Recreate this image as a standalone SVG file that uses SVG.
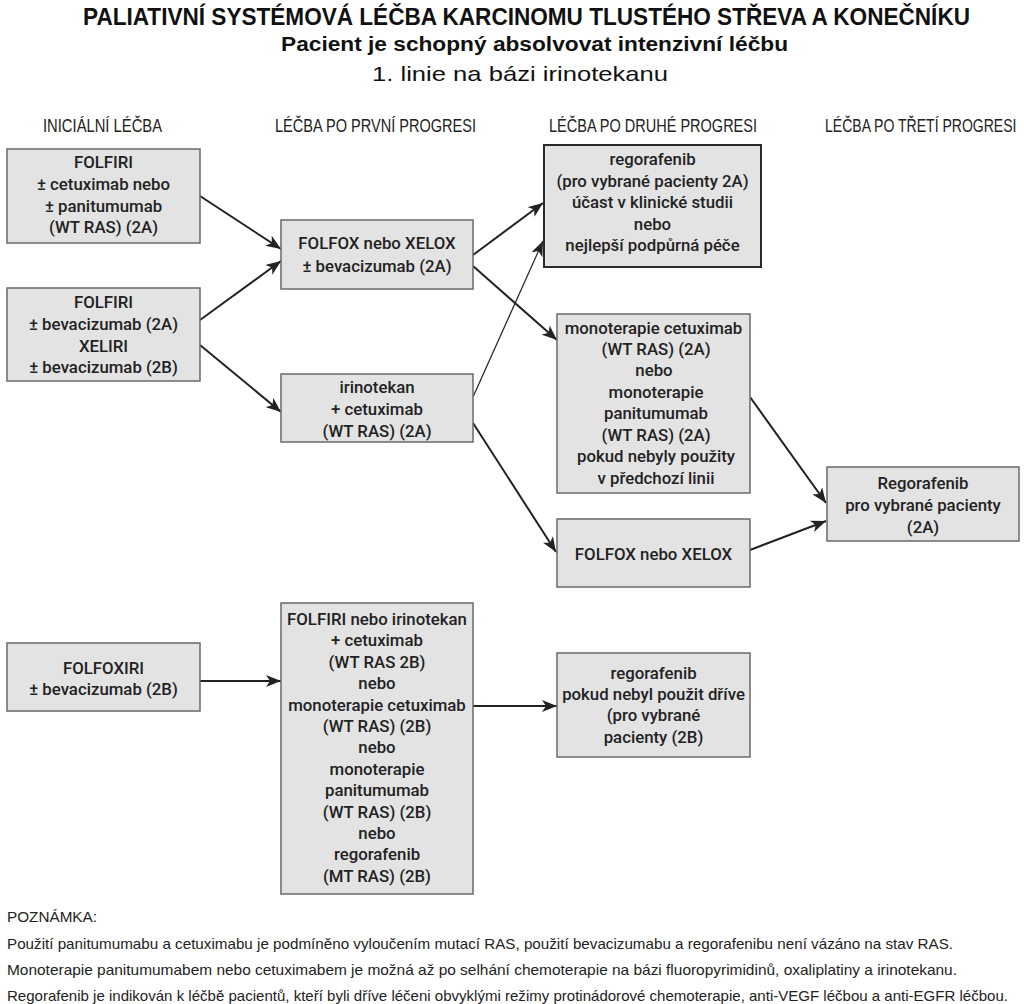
<svg xmlns="http://www.w3.org/2000/svg" width="1024" height="1004" viewBox="0 0 1024 1004">
<style>
.bg{fill:#ffffff}
.box{fill:#e3e3e3;stroke:#6a6a6a;stroke-width:1.5}
.boxd{fill:#e3e3e3;stroke:#2a2a2a;stroke-width:2}
.t{font-family:Roboto,"Liberation Sans",sans-serif;font-weight:500;font-size:16.8px;fill:#222;text-anchor:middle}
.title{font-family:"Liberation Sans",Arial,sans-serif;font-weight:bold;fill:#111;text-anchor:middle}
.hdr{font-family:"Liberation Sans",Arial,sans-serif;font-size:18px;fill:#222;text-anchor:start}
.note{font-family:"Liberation Sans",Arial,sans-serif;font-size:15px;fill:#222}
.c{stroke:#222;stroke-width:2;fill:none}
.cth{stroke:#222;stroke-width:1.2;fill:none}
</style>
<defs>
<marker id="ah" markerUnits="userSpaceOnUse" markerWidth="16" markerHeight="12" viewBox="0 0 16 12" refX="15" refY="6" orient="auto">
<path d="M0,0 L15,6 L0,12 L4,6 z" fill="#222"/>
</marker>
</defs>
<rect class="bg" x="0" y="0" width="1024" height="1004"/>

<g id="titles">
<text class="title" x="526.5" y="25" font-size="23.5" textLength="887" lengthAdjust="spacingAndGlyphs">PALIATIVNÍ SYSTÉMOVÁ LÉČBA KARCINOMU TLUSTÉHO STŘEVA A KONEČNÍKU</text>
<text class="title" x="534.5" y="51" font-size="20" textLength="507" lengthAdjust="spacingAndGlyphs">Pacient je schopný absolvovat intenzivní léčbu</text>
<text class="title" x="520" y="81" font-size="21" textLength="296" lengthAdjust="spacingAndGlyphs" style="font-weight:normal">1. linie na bázi irinotekanu</text>
</g>

<g id="headers">
<text class="hdr" x="43" y="132" textLength="119" lengthAdjust="spacingAndGlyphs">INICIÁLNÍ LÉČBA</text>
<text class="hdr" x="275" y="132" textLength="201" lengthAdjust="spacingAndGlyphs">LÉČBA PO PRVNÍ PROGRESI</text>
<text class="hdr" x="549" y="132" textLength="208" lengthAdjust="spacingAndGlyphs">LÉČBA PO DRUHÉ PROGRESI</text>
<text class="hdr" transform="translate(825,132) scale(0.78,1)" x="0" y="0">LÉČBA PO TŘETÍ PROGRESI</text>
</g>

<g id="connectors">
<line class="c" x1="200" y1="196" x2="281" y2="249" marker-end="url(#ah)"/>
<line class="c" x1="200" y1="320" x2="281" y2="261" marker-end="url(#ah)"/>
<line class="c" x1="200" y1="345" x2="281" y2="412" marker-end="url(#ah)"/>
<line class="c" x1="473" y1="255" x2="543" y2="203" marker-end="url(#ah)"/>
<line class="c" x1="473" y1="266" x2="557" y2="340" marker-end="url(#ah)"/>
<line class="cth" x1="473" y1="397" x2="543" y2="241" marker-end="url(#ah)"/>
<line class="c" x1="473" y1="423" x2="556" y2="552" marker-end="url(#ah)"/>
<line class="c" x1="750" y1="397" x2="826" y2="503" marker-end="url(#ah)"/>
<line class="c" x1="750" y1="550" x2="826" y2="521" marker-end="url(#ah)"/>
<line class="c" x1="200" y1="681" x2="281" y2="681" marker-end="url(#ah)"/>
<line class="c" x1="473" y1="706" x2="557" y2="706" marker-end="url(#ah)"/>
</g>

<g id="n-folfiri-cetux">
<rect class="box" x="7" y="149" width="193" height="94"/>
<text class="t" x="103.5" y="168">FOLFIRI</text>
<text class="t" x="103.5" y="190">± cetuximab nebo</text>
<text class="t" x="103.5" y="211.5">± panitumumab</text>
<text class="t" x="103.5" y="233">(WT RAS) (2A)</text>
</g>

<g id="n-folfiri-bev">
<rect class="box" x="7" y="288" width="193" height="93"/>
<text class="t" x="103.5" y="308">FOLFIRI</text>
<text class="t" x="103.5" y="330">± bevacizumab (2A)</text>
<text class="t" x="103.5" y="352">XELIRI</text>
<text class="t" x="103.5" y="373">± bevacizumab (2B)</text>
</g>

<g id="n-folfoxiri">
<rect class="box" x="7" y="643" width="193" height="68"/>
<text class="t" x="103.5" y="674">FOLFOXIRI</text>
<text class="t" x="103.5" y="695">± bevacizumab (2B)</text>
</g>

<g id="n-folfox-bev">
<rect class="box" x="281" y="220" width="192" height="69"/>
<text class="t" x="377" y="249">FOLFOX nebo XELOX</text>
<text class="t" x="377" y="272">± bevacizumab (2A)</text>
</g>

<g id="n-irinotekan">
<rect class="box" x="281" y="374" width="192" height="68"/>
<text class="t" x="377" y="393">irinotekan</text>
<text class="t" x="377" y="415">+ cetuximab</text>
<text class="t" x="377" y="437">(WT RAS) (2A)</text>
</g>

<g id="n-folfiri-irino">
<rect class="box" x="281" y="603" width="192" height="291"/>
<text class="t" x="377" y="625">FOLFIRI nebo irinotekan</text>
<text class="t" x="377" y="646.4">+ cetuximab</text>
<text class="t" x="377" y="667.8">(WT RAS 2B)</text>
<text class="t" x="377" y="689.2">nebo</text>
<text class="t" x="377" y="710.6">monoterapie cetuximab</text>
<text class="t" x="377" y="732">(WT RAS) (2B)</text>
<text class="t" x="377" y="753.4">nebo</text>
<text class="t" x="377" y="774.8">monoterapie</text>
<text class="t" x="377" y="796.2">panitumumab</text>
<text class="t" x="377" y="817.6">(WT RAS) (2B)</text>
<text class="t" x="377" y="839">nebo</text>
<text class="t" x="377" y="860.4">regorafenib</text>
<text class="t" x="377" y="881.8">(MT RAS) (2B)</text>
</g>

<g id="n-regorafenib-top">
<rect class="boxd" x="544" y="145" width="217" height="122"/>
<text class="t" x="652.5" y="165">regorafenib</text>
<text class="t" x="652.5" y="187">(pro vybrané pacienty 2A)</text>
<text class="t" x="652.5" y="208">účast v klinické studii</text>
<text class="t" x="652.5" y="230">nebo</text>
<text class="t" x="652.5" y="251">nejlepší podpůrná péče</text>
</g>

<g id="n-monoterapie">
<rect class="box" x="557" y="314" width="193" height="179"/>
<text class="t" x="653.5" y="334">monoterapie cetuximab</text>
<text class="t" x="656" y="355">(WT RAS) (2A)</text>
<text class="t" x="654" y="376">nebo</text>
<text class="t" x="656" y="398">monoterapie</text>
<text class="t" x="656" y="419">panitumumab</text>
<text class="t" x="656" y="441">(WT RAS) (2A)</text>
<text class="t" x="656" y="462">pokud nebyly použity</text>
<text class="t" x="656" y="484">v předchozí linii</text>
</g>

<g id="n-folfox-xelox">
<rect class="box" x="557" y="519" width="193" height="68"/>
<text class="t" x="653.5" y="560">FOLFOX nebo XELOX</text>
</g>

<g id="n-regorafenib-bottom">
<rect class="box" x="557" y="653" width="193" height="104"/>
<text class="t" x="653.5" y="679">regorafenib</text>
<text class="t" x="653.5" y="700">pokud nebyl použit dříve</text>
<text class="t" x="653.5" y="721">(pro vybrané</text>
<text class="t" x="653.5" y="743">pacienty (2B)</text>
</g>

<g id="n-regorafenib-third">
<rect class="box" x="827" y="467" width="192" height="74"/>
<text class="t" x="923" y="489">Regorafenib</text>
<text class="t" x="923" y="511">pro vybrané pacienty</text>
<text class="t" x="923" y="533">(2A)</text>
</g>

<g id="notes">
<text class="note" x="7" y="922" textLength="90" lengthAdjust="spacingAndGlyphs">POZNÁMKA:</text>
<text class="note" x="7" y="949" textLength="946" lengthAdjust="spacingAndGlyphs">Použití panitumumabu a cetuximabu je podmíněno vyloučením mutací RAS, použití bevacizumabu a regorafenibu není vázáno na stav RAS.</text>
<text class="note" x="7" y="975" textLength="950" lengthAdjust="spacingAndGlyphs">Monoterapie panitumumabem nebo cetuximabem je možná až po selhání chemoterapie na bázi fluoropyrimidinů, oxaliplatiny a irinotekanu.</text>
<text class="note" x="7" y="1001" textLength="1001" lengthAdjust="spacingAndGlyphs">Regorafenib je indikován k léčbě pacientů, kteří byli dříve léčeni obvyklými režimy protinádorové chemoterapie, anti-VEGF léčbou a anti-EGFR léčbou.</text>
</g>
</svg>
